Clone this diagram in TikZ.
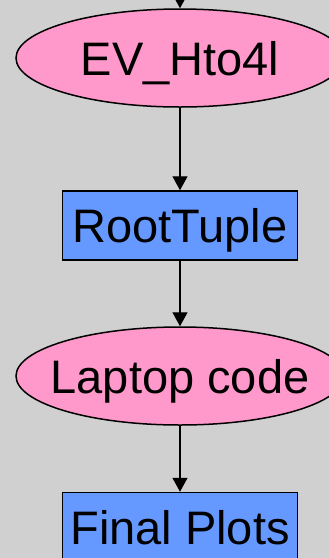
\documentclass[tikz,border=0pt]{standalone}
\usepackage{fontspec}
\setmainfont{Liberation Sans}
\usetikzlibrary{arrows.meta}
\usetikzlibrary{shapes.geometric}
\definecolor{flowpink}{RGB}{255,153,204}
\definecolor{flowblue}{RGB}{102,153,255}
\definecolor{flowgray}{RGB}{208,208,208}

\begin{document}
\begin{tikzpicture}[line join=miter,>={Triangle[length=14pt,width=15pt]},x=1pt,y=-1pt,
  every node/.style={font=\fontsize{47}{50}\selectfont,text height=34pt,text depth=0pt},
  progbox/.style={ellipse,draw,fill=flowpink,line width=1.5pt,minimum width=328pt,minimum height=98pt,inner xsep=-20pt,inner ysep=0pt},
  filebox/.style={rectangle,draw,fill=flowblue,line width=1.5pt,minimum width=235pt,minimum height=69pt,inner sep=0pt}]
\useasboundingbox (0,0) rectangle (329,558);
\clip (0,0) rectangle (329,558);
\fill[flowgray] (0,0) rectangle (329,558);
\node[progbox] (ev) at (180,58) {EV\_Hto4l};
\node[filebox] (rt) at (180,225.5) {RootTuple};
\node[progbox] (lc) at (180,376) {Laptop code};
\node[filebox] (fp) at (180,527) {Final Plots};
\coordinate (in) at (180,-20);
%\draw[->] (fp) -- (180,600);
\draw[->,line width=1.3pt] (in) -- (ev);
\draw[->,line width=1.3pt] (ev) -- (rt);
\draw[->,line width=1.3pt] (rt) -- (lc);
\draw[->,line width=1.3pt] (lc) -- (fp);
\end{tikzpicture}
\end{document}
